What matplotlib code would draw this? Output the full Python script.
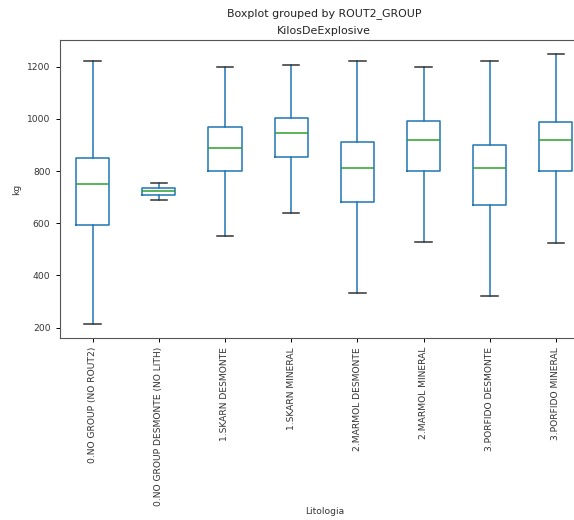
import matplotlib
matplotlib.use("Agg")
import matplotlib.pyplot as plt

groups = ["0.NO GROUP (NO ROUT2)", "0.NO GROUP DESMONTE (NO LITH)", "1.SKARN DESMONTE",
          "1.SKARN MINERAL", "2.MARMOL DESMONTE", "2.MARMOL MINERAL",
          "3.PORFIDO DESMONTE", "3.PORFIDO MINERAL"]
whislo = [212, 691, 550, 639, 332, 530, 321, 523]
q1 = [595, 710, 801, 855, 681, 801, 670, 801]
med = [749, 724, 889, 948, 812, 921, 812, 921]
q3 = [851, 737, 970, 1002, 910, 992, 900, 988]
whishi = [1223, 755, 1200, 1206, 1224, 1200, 1224, 1251]

stats = []
for name, lo, a, m, b, hi in zip(groups, whislo, q1, med, q3, whishi):
    stats.append(dict(label=name, whislo=lo, q1=a, med=m, q3=b, whishi=hi, fliers=[]))

fig = plt.figure(figsize=(5.74, 5.2), dpi=100)
# the reference is cropped on the right, so the axes run past the figure edge
ax = fig.add_axes([59.5 / 574, 182 / 520, 529.5 / 574, 298 / 520])

ax.bxp(stats, widths=0.5, showfliers=False,
       boxprops=dict(color="#1f77b4", lw=1.1),
       whiskerprops=dict(color="#1f77b4", lw=1.1),
       medianprops=dict(color="#2ca02c", lw=1.1),
       capprops=dict(color="#333333", lw=1.1))

ax.tick_params(labelsize=6.6, length=3, width=0.7, labelcolor="#333333")
ax.set_xticks(range(1, len(groups) + 1))
ax.set_xticklabels(groups, rotation=90)
ax.set_ylabel("kg", fontsize=6.6, color="#333333")
ax.set_xlabel("Litologia", fontsize=6.6, color="#333333", labelpad=0.5)
ax.set_title("KilosDeExplosive", fontsize=7.9, pad=4, color="#222222")
fig.suptitle("Boxplot grouped by ROUT2_GROUP", fontsize=7.9, x=324 / 574, y=0.985,
             color="#222222")
for s in ax.spines.values():
    s.set_color("#555555")

fig.savefig("out.png", dpi=100)
